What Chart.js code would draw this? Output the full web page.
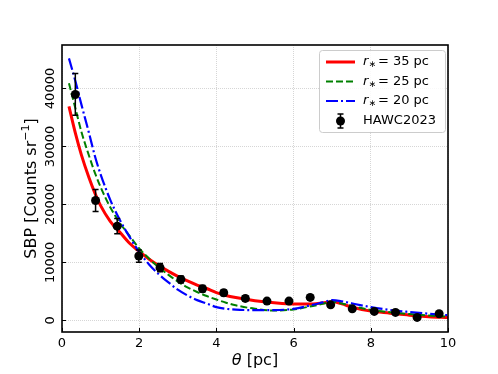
<!DOCTYPE html>
<html>
<head>
<meta charset="utf-8">
<script src="https://cdn.jsdelivr.net/npm/chart.js@4.4.1/dist/chart.umd.min.js"></script>
<style>
html,body{margin:0;padding:0;background:#fff;}
canvas{display:block;}
</style>
</head>
<body>
<canvas id="c" width="498" height="374"></canvas>
<script>
// ---- data ----
const thetaModel = [0.18,0.35,0.5,0.7,0.85,1.0,1.25,1.5,1.75,2.0,2.25,2.5,2.75,3.0,3.25,3.5,3.75,4.0,4.25,4.5,5.0,5.5,6.0,6.5,6.75,7.0,7.25,7.5,8.0,8.5,9.0,9.5,10.0];
const model35 = [36900,32200,28600,24600,22000,19800,17100,15200,13300,11900,10600,9500,8500,7600,6800,6100,5500,4800,4300,3950,3400,3050,2850,2850,3000,3200,2850,2300,1600,1250,900,650,500];
const model25 = [40900,36500,32600,28400,25500,23000,19500,16800,14600,12400,10700,9200,7900,6700,5700,4900,4200,3600,3050,2600,2000,1700,1900,2500,2850,3200,2900,2500,1800,1400,1100,850,620];
const model20 = [45200,41200,37300,32300,28400,25200,20800,17300,14400,11800,9700,8000,6600,5300,4300,3500,2900,2300,2000,1850,1780,1780,2000,2700,3100,3500,3300,2950,2300,1800,1450,1150,900];
const thetaObs = [0.345,0.87,1.43,1.99,2.54,3.08,3.64,4.19,4.75,5.31,5.88,6.43,6.96,7.52,8.09,8.64,9.20,9.77];
const sbpObs = [38970,20690,16260,11100,9100,7070,5450,4760,3790,3330,3330,3970,2690,2000,1550,1380,520,1140];
const sbpErr = [3600,1900,1300,1050,700,600,550,500,450,400,400,400,350,350,300,300,300,300];
const xTicks = [0,2,4,6,8,10];
const yTicks = [0,10000,20000,30000,40000];
const seriesLabels = ['35 pc','25 pc','20 pc','HAWC2023'];

const FONT = "'DejaVu Sans', sans-serif";
const toXY = (xs, ys) => xs.map((x,i)=>({x:x, y:ys[i]}));

const customPlugin = {
  id: 'custom',
  afterDatasetsDraw(chart) {
    const ctx = chart.ctx, xs = chart.scales.x, ys = chart.scales.y, ca = chart.chartArea;
    // error bars
    ctx.save();
    ctx.strokeStyle = '#000'; ctx.lineWidth = 1.5;
    thetaObs.forEach((t,i)=>{
      const px = xs.getPixelForValue(t);
      const y1 = ys.getPixelForValue(sbpObs[i]+sbpErr[i]);
      const y2 = ys.getPixelForValue(sbpObs[i]-sbpErr[i]);
      ctx.beginPath();
      ctx.moveTo(px,y1); ctx.lineTo(px,y2);
      ctx.moveTo(px-3,y1); ctx.lineTo(px+3,y1);
      ctx.moveTo(px-3,y2); ctx.lineTo(px+3,y2);
      ctx.stroke();
    });
    ctx.restore();
    // frame
    ctx.save();
    ctx.strokeStyle = '#000'; ctx.lineWidth = 1.6;
    ctx.strokeRect(ca.left, ca.top, ca.right-ca.left, ca.bottom-ca.top);
    // inward ticks
    ctx.lineWidth = 1;
    ctx.beginPath();
    xTicks.forEach(v=>{const p=Math.round(xs.getPixelForValue(v))+0.5; ctx.moveTo(p,ca.bottom); ctx.lineTo(p,ca.bottom-4);});
    yTicks.forEach(v=>{const p=Math.round(ys.getPixelForValue(v))+0.5; ctx.moveTo(ca.left,p); ctx.lineTo(ca.left+4,p);});
    ctx.stroke();
    ctx.restore();
  },
  afterDraw(chart) {
    const ctx = chart.ctx, xs = chart.scales.x, ys = chart.scales.y, ca = chart.chartArea;
    ctx.save();
    ctx.fillStyle = '#000';
    // y tick labels rotated
    ctx.font = '13px ' + FONT;
    ctx.textAlign = 'center'; ctx.textBaseline = 'middle';
    yTicks.forEach(v=>{
      ctx.save();
      ctx.translate(ca.left-11, ys.getPixelForValue(v));
      ctx.rotate(-Math.PI/2);
      ctx.fillText(String(v), 0, 0);
      ctx.restore();
    });
    // y title
    ctx.save();
    ctx.translate(ca.left-30, (ca.top+ca.bottom)/2);
    ctx.rotate(-Math.PI/2);
    ctx.textAlign = 'left'; ctx.textBaseline = 'middle';
    const f1 = '16px ' + FONT, f2 = '11px ' + FONT;
    ctx.font = f1; const a = 'SBP [Counts sr'; const wa = ctx.measureText(a).width;
    ctx.font = f2; const b = '\u22121'; const wb = ctx.measureText(b).width;
    ctx.font = f1; const c = ']'; const wc = ctx.measureText(c).width;
    let x0 = -(wa+wb+wc)/2;
    ctx.font = f1; ctx.fillText(a, x0, 0);
    ctx.font = f2; ctx.fillText(b, x0+wa, -6);
    ctx.font = f1; ctx.fillText(c, x0+wa+wb, 0);
    ctx.restore();
    // x title
    ctx.save();
    ctx.textAlign = 'left'; ctx.textBaseline = 'middle';
    const fi = 'italic 16px ' + FONT;
    ctx.font = fi; const t1 = '\u03b8'; const w1 = ctx.measureText(t1).width;
    ctx.font = f1; const t2 = ' [pc]'; const w2 = ctx.measureText(t2).width;
    const cx = (ca.left+ca.right)/2 - (w1+w2)/2;
    ctx.font = fi; ctx.fillText(t1, cx, 361);
    ctx.font = f1; ctx.fillText(t2, cx+w1, 361);
    ctx.restore();
    // legend
    const lx = 319, ly = 50, lw = 126, lh = 82;
    ctx.save();
    ctx.beginPath();
    ctx.roundRect(lx+0.5, ly+0.5, lw, lh, 3);
    ctx.fillStyle = 'rgba(255,255,255,0.85)'; ctx.fill();
    ctx.strokeStyle = '#cccccc'; ctx.lineWidth = 1; ctx.stroke();
    const rows = [62, 81.5, 101, 121];
    const styles = [
      {c:'#ff0000', w:3, d:[]},
      {c:'#008000', w:2, d:[7,3]},
      {c:'#0000ff', w:2.2, d:[12,3,2,3]}
    ];
    styles.forEach((s,i)=>{
      ctx.beginPath(); ctx.strokeStyle = s.c; ctx.lineWidth = s.w; ctx.setLineDash(s.d);
      ctx.moveTo(326, rows[i]); ctx.lineTo(355, rows[i]); ctx.stroke();
    });
    ctx.setLineDash([]);
    // errorbar legend glyph
    ctx.strokeStyle = '#000'; ctx.lineWidth = 1.5;
    ctx.beginPath();
    ctx.moveTo(340.5, rows[3]-7); ctx.lineTo(340.5, rows[3]+7);
    ctx.moveTo(337.5, rows[3]-7); ctx.lineTo(343.5, rows[3]-7);
    ctx.moveTo(337.5, rows[3]+7); ctx.lineTo(343.5, rows[3]+7);
    ctx.stroke();
    ctx.beginPath(); ctx.arc(340.5, rows[3], 4.5, 0, 2*Math.PI); ctx.fillStyle = '#000'; ctx.fill();
    // legend texts
    ctx.fillStyle = '#000'; ctx.textBaseline = 'middle'; ctx.textAlign = 'left';
    for (let i=0;i<3;i++){
      let x = 363;
      ctx.font = 'italic 13px ' + FONT; ctx.fillText('r', x, rows[i]); x += ctx.measureText('r').width + 0.5;
      ctx.font = '9px ' + FONT; ctx.fillText('\u2217', x, rows[i]+3); x += ctx.measureText('\u2217').width + 1.5;
      ctx.font = '13px ' + FONT; ctx.fillText('= ' + seriesLabels[i], x, rows[i]);
    }
    ctx.font = '13px ' + FONT; ctx.fillText(seriesLabels[3], 363, rows[3]);
    ctx.restore();
    ctx.restore();
  }
};

new Chart(document.getElementById('c'), {
  type: 'line',
  data: {
    datasets: [
      {label: seriesLabels[3], data: toXY(thetaObs, sbpObs), showLine: false, pointRadius: 4.5, pointBackgroundColor: '#000', pointBorderColor: '#000', pointBorderWidth: 0, order: 0},
      {label: 'r* = ' + seriesLabels[2], data: toXY(thetaModel, model20), borderColor: '#0000ff', borderWidth: 2.2, borderDash: [12,3,2,3], pointRadius: 0, cubicInterpolationMode: 'monotone', fill: false, order: 1},
      {label: 'r* = ' + seriesLabels[1], data: toXY(thetaModel, model25), borderColor: '#008000', borderWidth: 2, borderDash: [7,3], pointRadius: 0, cubicInterpolationMode: 'monotone', fill: false, order: 2},
      {label: 'r* = ' + seriesLabels[0], data: toXY(thetaModel, model35), borderColor: '#ff0000', borderWidth: 3, pointRadius: 0, cubicInterpolationMode: 'monotone', fill: false, order: 3}
    ]
  },
  options: {
    responsive: false,
    animation: false,
    devicePixelRatio: 1,
    layout: {padding: {left: 0, top: 45, right: 50, bottom: 0}},
    plugins: {legend: {display: false}, tooltip: {enabled: false}},
    scales: {
      x: {
        type: 'linear', min: 0, max: 10,
        afterBuildTicks: s => { s.ticks = xTicks.map(v=>({value:v})); },
        afterFit: s => { s.height = 42; },
        grid: {color: 'rgba(0,0,0,0.16)', lineWidth: 1, drawTicks: false},
        border: {display: false, dash: [1,1]},
        ticks: {color: '#000', font: {family: FONT, size: 13}, padding: 4, maxRotation: 0}
      },
      y: {
        type: 'linear', min: -2000, max: 47500,
        afterBuildTicks: s => { s.ticks = yTicks.map(v=>({value:v})); },
        afterFit: s => { s.width = 62; },
        grid: {color: 'rgba(0,0,0,0.16)', lineWidth: 1, drawTicks: false},
        border: {display: false, dash: [1,1]},
        ticks: {display: false}
      }
    }
  },
  plugins: [customPlugin]
});
</script>
</body>
</html>
